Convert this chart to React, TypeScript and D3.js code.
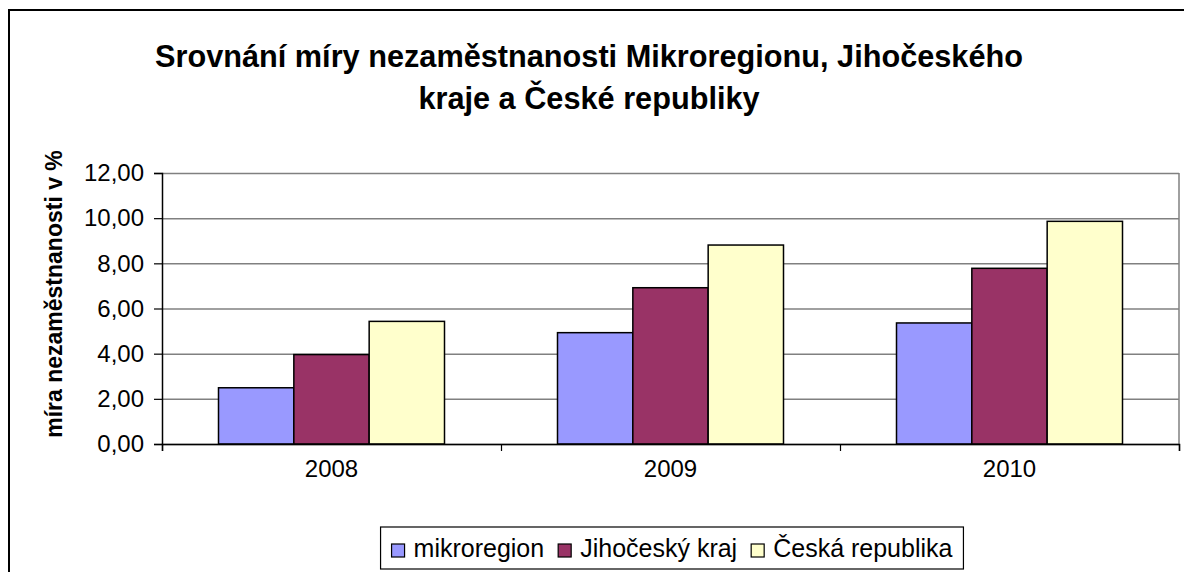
import { useRef, useEffect } from "react";
import { select, scaleBand, scaleLinear, axisLeft, axisBottom, range } from "d3";

const years = ["2008", "2009", "2010"];
const seriesNames = ["mikroregion", "Jihočeský kraj", "Česká republika"];
const seriesColors = ["#9999FF", "#993366", "#FFFFCC"];
const mikroregion = [2.49, 4.93, 5.36];
const jihocesky = [3.96, 6.92, 7.78];
const ceskaRepublika = [5.43, 8.81, 9.86];
const yTicks = [0, 2, 4, 6, 8, 10, 12];
const titleLines = [
  "Srovnání míry nezaměstnanosti Mikroregionu, Jihočeského",
  "kraje a České republiky",
];
const yLabel = "míra nezaměstnanosti v %";

const W = 1184;
const H = 572;
const margin = { top: 173, right: 5, bottom: 128, left: 162 };
const FONT = "'Liberation Sans', Arial, sans-serif";

export default function App() {
  const svgRef = useRef<SVGSVGElement>(null);

  useEffect(() => {
    document.body.style.margin = "0";
    document.body.style.overflow = "hidden";

    const svgEl = select(svgRef.current);
    svgEl.selectAll("*").remove();

    const innerW = W - margin.left - margin.right;
    const innerH = H - margin.top - margin.bottom;
    const values = [mikroregion, jihocesky, ceskaRepublika];

    // outer chart frame (only top and left edges are inside the picture)
    svgEl
      .append("path")
      .attr("d", `M9,${H} V10 H${W}`)
      .attr("fill", "none")
      .attr("stroke", "#000")
      .attr("stroke-width", 2);

    // title
    svgEl
      .append("g")
      .selectAll("text")
      .data(titleLines)
      .join("text")
      .attr("x", 589)
      .attr("y", (d, i) => 67 + i * 42)
      .attr("text-anchor", "middle")
      .style("font-family", FONT)
      .style("font-weight", "bold")
      .style("font-size", "30.7px")
      .text((d) => d);

    const g = svgEl
      .append("g")
      .attr("transform", `translate(${margin.left}, ${margin.top})`);

    const x0 = scaleBand()
      .domain(years)
      .range([0, innerW])
      .paddingInner(1 / 3)
      .paddingOuter(1 / 6);
    const x1 = scaleBand().domain(seriesNames).range([0, x0.bandwidth()]);
    const y = scaleLinear().domain([0, 12]).range([innerH, 0]);

    // gridlines
    const grid = g
      .append("g")
      .call(
        axisLeft(y)
          .tickValues(yTicks)
          .tickSize(-innerW)
          .tickFormat(() => "")
      );
    grid.select(".domain").remove();
    grid.selectAll("line").attr("stroke", "#808080").attr("stroke-width", 1.5);

    // right border of plot
    g.append("line")
      .attr("x1", innerW)
      .attr("x2", innerW)
      .attr("y1", 0)
      .attr("y2", innerH)
      .attr("stroke", "#808080")
      .attr("stroke-width", 1.5);

    // bars
    const groups = g
      .selectAll("g.year")
      .data(years)
      .join("g")
      .attr("class", "year")
      .attr("transform", (d) => `translate(${x0(d)}, 0)`);

    groups
      .selectAll("rect")
      .data((d, i) => seriesNames.map((s, k) => ({ s, k, v: values[k][i] })))
      .join("rect")
      .attr("x", (d) => x1(d.s))
      .attr("y", (d) => y(d.v))
      .attr("width", x1.bandwidth())
      .attr("height", (d) => innerH - y(d.v))
      .attr("fill", (d) => seriesColors[d.k])
      .attr("stroke", "#000")
      .attr("stroke-width", 1.5);

    // y axis
    const yAxis = g
      .append("g")
      .call(
        axisLeft(y)
          .tickValues(yTicks)
          .tickSize(8)
          .tickPadding(10)
          .tickFormat((v) => (v as number).toFixed(2).replace(".", ","))
      );
    yAxis.select(".domain").attr("stroke", "#000").attr("stroke-width", 1.5);
    yAxis.selectAll("line").attr("stroke", "#000").attr("stroke-width", 1.2);
    yAxis
      .selectAll("text")
      .style("font-family", FONT)
      .style("font-size", "24px")
      .attr("fill", "#000");

    // x axis, ticks between categories
    const step = x0.step();
    const xAxis = g
      .append("g")
      .attr("transform", `translate(0, ${innerH})`)
      .call(
        axisBottom(scaleLinear().domain([0, 3]).range([0, step * 3]))
          .tickValues(range(0, 4))
          .tickSize(7)
          .tickFormat(() => "")
      );
    xAxis.select(".domain").attr("stroke", "#000").attr("stroke-width", 1.5);
    xAxis.selectAll("line").attr("stroke", "#000").attr("stroke-width", 1.2);

    g.append("g")
      .selectAll("text")
      .data(years)
      .join("text")
      .attr("x", (d) => x0(d)! + x0.bandwidth() / 2)
      .attr("y", innerH + 33)
      .attr("text-anchor", "middle")
      .style("font-family", FONT)
      .style("font-size", "24px")
      .text((d) => d);

    // y label
    svgEl
      .append("text")
      .attr("transform", `translate(62, 294) rotate(-90)`)
      .attr("text-anchor", "middle")
      .style("font-family", FONT)
      .style("font-weight", "bold")
      .style("font-size", "23px")
      .text(yLabel);

    // legend
    const legend = svgEl.append("g");
    const box = legend
      .append("rect")
      .attr("y", 527)
      .attr("height", 42)
      .attr("fill", "#fff")
      .attr("stroke", "#000")
      .attr("stroke-width", 1.2);
    let cx = 0;
    const items = legend.append("g");
    seriesNames.forEach((name, k) => {
      items
        .append("rect")
        .attr("x", cx)
        .attr("y", 544)
        .attr("width", 13)
        .attr("height", 13)
        .attr("fill", seriesColors[k])
        .attr("stroke", "#000")
        .attr("stroke-width", 1.2);
      const t = items
        .append("text")
        .attr("x", cx + 22)
        .attr("y", 557)
        .style("font-family", FONT)
        .style("font-size", "25px")
        .text(name);
      const len = (t.node() as SVGTextElement).getComputedTextLength();
      cx += 22 + len + 14;
    });
    const itemsW = cx - 14;
    const boxW = itemsW + 22;
    const boxX = 672 - boxW / 2;
    box.attr("x", boxX).attr("width", boxW);
    items.attr("transform", `translate(${boxX + 11}, 0)`);
  }, []);

  return (
    <svg ref={svgRef} width={W} height={H} style={{ display: "block", background: "#fff" }}></svg>
  );
}
